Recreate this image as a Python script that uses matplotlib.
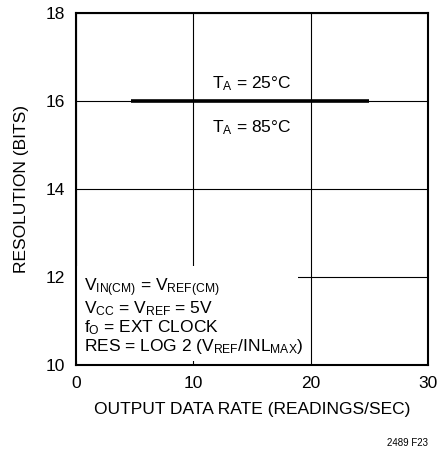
import matplotlib
matplotlib.use('Agg')
import matplotlib.pyplot as plt
from matplotlib.patches import Rectangle

plt.rcParams['font.family'] = ['Liberation Sans', 'DejaVu Sans']
plt.rcParams['mathtext.fontset'] = 'custom'
plt.rcParams['mathtext.rm'] = 'Liberation Sans'
plt.rcParams['mathtext.it'] = 'Liberation Sans'

# data
rate = [4.7, 25]
resolution = [16, 16]
x_ticks = [0, 10, 20, 30]
y_ticks = [10, 12, 14, 16, 18]

fig = plt.figure(figsize=(4.40, 4.51), dpi=100)
ax = fig.add_axes([76 / 440, 1 - 365 / 451, 352 / 440, 352 / 451])

ax.set_xlim(0, 30)
ax.set_ylim(10, 18)
ax.set_xticks(x_ticks)
ax.set_yticks(y_ticks)
ax.tick_params(length=0, labelsize=12.5, pad=8)
ax.grid(True, color='black', linewidth=0.8)
ax.set_axisbelow(True)
for s in ax.spines.values():
    s.set_linewidth(1.5)

ax.plot(rate, resolution, color='black', linewidth=2.6, solid_capstyle='butt', zorder=3)

ax.text(15, 16.40, r'$\mathregular{T_A}$ = 25°C', ha='center', va='center', fontsize=12.5)
ax.text(15, 15.40, r'$\mathregular{T_A}$ = 85°C', ha='center', va='center', fontsize=12.5)

# white box behind the conditions text
ax.add_patch(Rectangle((0, 10.08), 18.9, 2.17, facecolor='white', edgecolor='none', zorder=2))
cond = (r'$\mathregular{V_{IN(CM)}}$ = $\mathregular{V_{REF(CM)}}$' + '\n'
        r'$\mathregular{V_{CC}}$ = $\mathregular{V_{REF}}$ = 5V' + '\n'
        r'$\mathregular{f_O}$ = EXT CLOCK' + '\n'
        r'RES = LOG 2 ($\mathregular{V_{REF}}$/$\mathregular{INL_{MAX}}$)')
ax.text(0.65, 10.21, cond, ha='left', va='bottom', fontsize=12.5, linespacing=1.0, zorder=4)

ax.set_xlabel('OUTPUT DATA RATE (READINGS/SEC)', fontsize=12.5, labelpad=8)
ax.set_ylabel('RESOLUTION (BITS)', fontsize=12.5, labelpad=12)

fig.text(407 / 440, 1 - 443 / 451, '2489 F23', ha='center', va='center', fontsize=7)

fig.savefig('out.png', dpi=100)
